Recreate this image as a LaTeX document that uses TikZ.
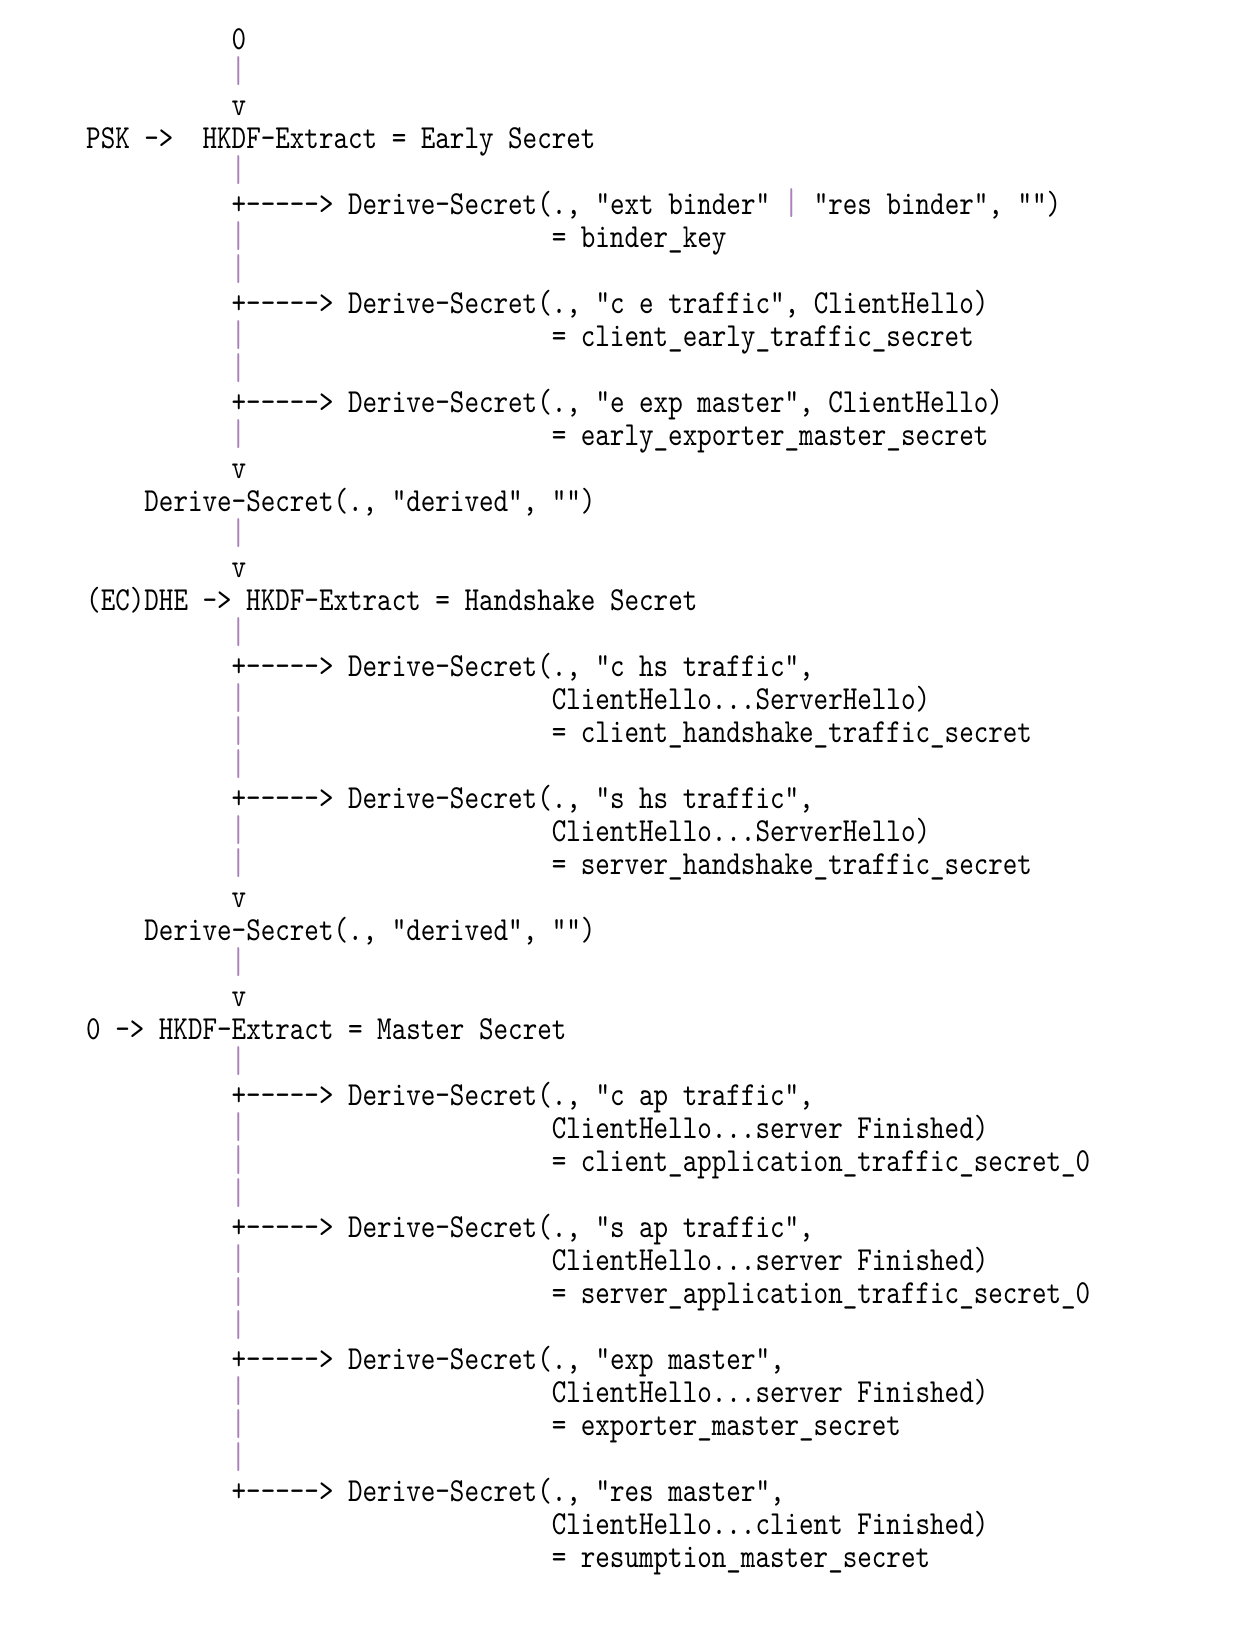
\documentclass[tikz,border=0pt]{standalone}
\usepackage{fontspec}
\usepackage{graphicx}
\newfontfamily\kdffont{lmmono10-regular.otf}[FakeStretch=0.825]
\definecolor{barcol}{RGB}{170,130,185}
% a tall "|" that fills the line, as in the picture
\newcommand{\vbar}{\raisebox{-1.65pt}{\resizebox{\width}{14.5pt}{\raisebox{\depth}{|}}}}

\begin{document}
\begin{tikzpicture}
[x=7.275pt,y=-16.5pt,
  ascii/.style={anchor=base west,inner sep=0pt,font=\fontsize{16.8}{18}\kdffont},%
  bar/.style={ascii,text=barcol}]
\useasboundingbox (-2.897,-1.509) rectangle (82.60,48.19);
%%% early secret
% input and extract
\node (z0) at (13,0) [ascii] {0};
\node (b1) at (13,1) [bar] {\vbar};
\node (v2) at (13,2) [ascii] {v};
\node (psk) at (3,3) [ascii] {PSK ->};
\node (early) at (11,3) [ascii] {HKDF-Extract = Early Secret};
\node (b4) at (13,4) [bar] {\vbar};
% derived secrets
\node (d5) at (13,5) [ascii] {+-----> Derive-Secret(., "ext binder" \textcolor{barcol}{\vbar} "res binder", "")};
\node (b6) at (13,6) [bar] {\vbar};
\node (k6) at (35,6) [ascii] {= binder\_key};
\node (b7) at (13,7) [bar] {\vbar};
\node (d8) at (13,8) [ascii] {+-----> Derive-Secret(., "c e traffic", ClientHello)};
\node (b9) at (13,9) [bar] {\vbar};
\node (k9) at (35,9) [ascii] {= client\_early\_traffic\_secret};
\node (b10) at (13,10) [bar] {\vbar};
\node (d11) at (13,11) [ascii] {+-----> Derive-Secret(., "e exp master", ClientHello)};
\node (b12) at (13,12) [bar] {\vbar};
\node (k12) at (35,12) [ascii] {= early\_exporter\_master\_secret};
\node (v13) at (13,13) [ascii] {v};
\node (der1) at (7,14) [ascii] {Derive-Secret(., "derived", "")};
\node (b15) at (13,15) [bar] {\vbar};
\node (v16) at (13,16) [ascii] {v};
%
%%% handshake secret
% input and extract
\node (dhe) at (3,17) [ascii] {(EC)DHE ->};
\node (hs) at (14,17) [ascii] {HKDF-Extract = Handshake Secret};
\node (b18) at (13,18) [bar] {\vbar};
% derived secrets
\node (d19) at (13,19) [ascii] {+-----> Derive-Secret(., "c hs traffic",};
\node (b20) at (13,20) [bar] {\vbar};
\node (t20) at (35,20) [ascii] {ClientHello...ServerHello)};
\node (b21) at (13,21) [bar] {\vbar};
\node (k21) at (35,21) [ascii] {= client\_handshake\_traffic\_secret};
\node (b22) at (13,22) [bar] {\vbar};
\node (d23) at (13,23) [ascii] {+-----> Derive-Secret(., "s hs traffic",};
\node (b24) at (13,24) [bar] {\vbar};
\node (t24) at (35,24) [ascii] {ClientHello...ServerHello)};
\node (b25) at (13,25) [bar] {\vbar};
\node (k25) at (35,25) [ascii] {= server\_handshake\_traffic\_secret};
\node (v26) at (13,26) [ascii] {v};
\node (der2) at (7,27) [ascii] {Derive-Secret(., "derived", "")};
\node (b28) at (13,28) [bar] {\vbar};
\node (v29) at (13,29) [ascii] {v};
%
%%% master secret
% input and extract
\node (zin) at (3,30) [ascii] {0 ->};
\node (ms) at (8,30) [ascii] {HKDF-Extract = Master Secret};
\node (b31) at (13,31) [bar] {\vbar};
% derived secrets
\node (d32) at (13,32) [ascii] {+-----> Derive-Secret(., "c ap traffic",};
\node (b33) at (13,33) [bar] {\vbar};
\node (t33) at (35,33) [ascii] {ClientHello...server Finished)};
\node (b34) at (13,34) [bar] {\vbar};
\node (k34) at (35,34) [ascii] {= client\_application\_traffic\_secret\_0};
\node (b35) at (13,35) [bar] {\vbar};
\node (d36) at (13,36) [ascii] {+-----> Derive-Secret(., "s ap traffic",};
\node (b37) at (13,37) [bar] {\vbar};
\node (t37) at (35,37) [ascii] {ClientHello...server Finished)};
\node (b38) at (13,38) [bar] {\vbar};
\node (k38) at (35,38) [ascii] {= server\_application\_traffic\_secret\_0};
\node (b39) at (13,39) [bar] {\vbar};
\node (d40) at (13,40) [ascii] {+-----> Derive-Secret(., "exp master",};
\node (b41) at (13,41) [bar] {\vbar};
\node (t41) at (35,41) [ascii] {ClientHello...server Finished)};
\node (b42) at (13,42) [bar] {\vbar};
\node (k42) at (35,42) [ascii] {= exporter\_master\_secret};
\node (b43) at (13,43) [bar] {\vbar};
\node (d44) at (13,44) [ascii] {+-----> Derive-Secret(., "res master",};
\node (t45) at (35,45) [ascii] {ClientHello...client Finished)};
\node (k46) at (35,46) [ascii] {= resumption\_master\_secret};
\end{tikzpicture}
\end{document}
